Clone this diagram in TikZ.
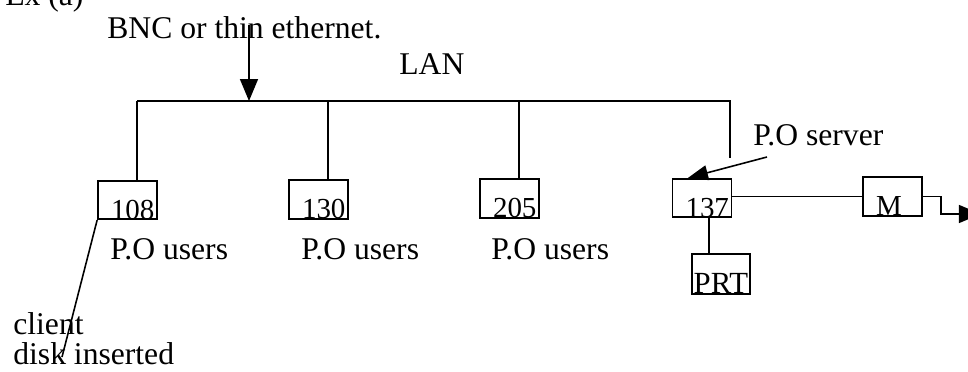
\documentclass[tikz,border=0pt]{standalone}
\usepackage{fontspec}
\setmainfont{Liberation Serif}
\usetikzlibrary{arrows.meta,positioning}
\tikzset{
  netlabel/.style={anchor=base west,inner sep=0pt,font=\fontsize{18}{20}\selectfont},
  pcbox/.style={draw,line width=1pt,text width=0.66cm,inner xsep=0.26cm,inner ysep=0pt,text height=0.77cm,text depth=0pt,align=left,font=\fontsize{16.5}{18}\selectfont},
  prtbox/.style={draw,line width=1pt,minimum width=1.16cm,inner xsep=0pt,inner ysep=0pt,text height=0.8cm,text depth=0pt,font=\fontsize{17.5}{19}\selectfont},
  wire/.style={line width=0.9pt},
  feed/.style={line width=0.9pt,-{Triangle[length=0.44cm,width=0.36cm]}},
  srvfeed/.style={line width=0.9pt,-{Triangle[length=0.4cm,width=0.3cm]}}
}
\begin{document}
\begin{tikzpicture}[x=0.02cm,y=-0.02cm]
  \useasboundingbox (0,0) rectangle (968,372);
  \clip (0,0) rectangle (968,372);
  \coordinate (t108) at (137,101);
  \coordinate (t130) at (328,101);
  \coordinate (t205) at (519,101);
  \coordinate (busR) at (730,101);
  \coordinate (busEnd) at (730,158);
  \coordinate (bncTop) at (249,25);
  \coordinate (bncTap) at (249,101);
  \coordinate (diskEnd) at (62,357);
  \node[netlabel] (exa) at (5,6) {Ex (a)};
  \node[netlabel] (bnc) at (107,38) {BNC or thin ethernet.};
  \node[netlabel] (lan) at (399,74) {LAN};
  \node[netlabel] (srv) at (753,145) {P.O server};
  \node[pcbox] (b108) at (127.5,200) {108};
  \node[pcbox] (b130) at (318.5,199.5) {130};
  \node[pcbox] (b205) at (509.5,198.5) {205};
  \node[pcbox] (b137) at (702,198) {137};
  \node[pcbox] (bM) at (892.5,196.5) {M};
  \node[prtbox] (bPRT) at (721,274) {PRT};
  \node[netlabel] (u108) at (110,259) {P.O users};
  \node[netlabel] (u130) at (301,259) {P.O users};
  \node[netlabel] (u205) at (491,259) {P.O users};
  \node[netlabel] (cli) at (13,334) {client};
  \node[netlabel] (dsk) at (13,364) {disk inserted};
  \draw[wire] (t108) -- (busR) -- (busEnd);
  \foreach \t/\b in {t108/b108,t130/b130,t205/b205}
    \draw[wire] (\t) -- (\t |- \b.north);
  \draw[feed] (bncTop) -- (bncTap);
  \draw[srvfeed] ([shift={(14,12)}]srv.base west) -- ([xshift=-0.28cm]b137.north);
  \draw[wire] (b137.east |- bM.west) -- (bM.west);
  \draw[wire] ([xshift=0.14cm]b137.south) -- ++(0,36);
  \draw[feed] (bM.east) -- ++(18,0) -- ++(0,17.5) -- ++(40,0);
  \draw[wire] (b108.south west) -- (diskEnd);
\end{tikzpicture}
\end{document}
